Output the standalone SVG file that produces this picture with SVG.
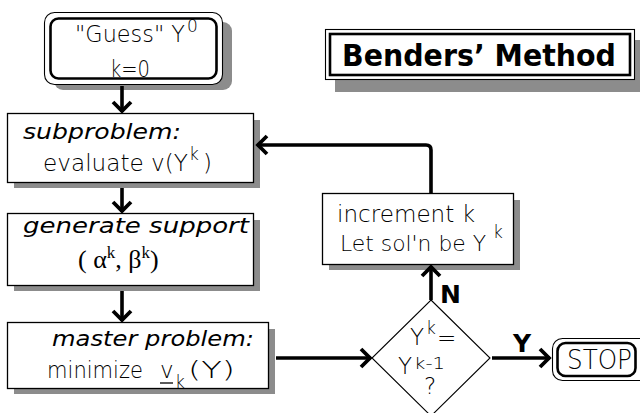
<svg xmlns="http://www.w3.org/2000/svg" width="640" height="413" viewBox="0 0 640 413">
  <defs>
    <!-- open chevron arrowhead -->
    <marker id="chev" markerUnits="userSpaceOnUse" markerWidth="28" markerHeight="28" viewBox="-14 -14 28 28" refX="0" refY="0" orient="auto" overflow="visible">
      <path d="M-10,-9 L-1,0 L-10,9" fill="none" stroke="#000" stroke-width="3.8" stroke-linecap="butt" stroke-linejoin="miter"/>
    </marker>
    <style>
      .shadow { fill: #8c8c8c; stroke: none; }
      .box { fill: #fff; stroke: #000; stroke-width: 1.3; }
      .thin { fill: #fff; stroke: #000; stroke-width: 1.1; }
      .thick { fill: none; stroke: #000; stroke-width: 2.6; }
      .t { font-family: "DejaVu Sans", "Liberation Sans", sans-serif; font-size: 23px; font-weight: 200; fill: #000; }
      .it { font-family: "DejaVu Sans", "Liberation Sans", sans-serif; font-size: 22px; font-style: italic; fill: #000; }
      .greek { font-family: "Liberation Serif", "DejaVu Serif", serif; font-size: 26px; fill: #000; }
      .sup { font-size: 17px; }
      .lbl { font-family: "DejaVu Sans", "Liberation Sans", sans-serif; font-size: 25px; font-weight: bold; fill: #000; }
      .title { font-family: "DejaVu Sans", "Liberation Sans", sans-serif; font-size: 30px; font-weight: bold; fill: #000; }
      .conn { fill: none; stroke: #000; stroke-width: 3.6; }
    </style>
  </defs>

  <rect width="640" height="413" fill="#fff"/>

  <!-- title -->
  <g id="title">
    <rect class="shadow" x="335" y="40" width="305" height="52"/>
    <rect class="thin" x="325.5" y="29.5" width="309" height="50"/>
    <rect class="thick" x="330" y="34" width="300" height="41"/>
    <text class="title" x="342" y="66" textLength="274" lengthAdjust="spacingAndGlyphs">Benders’ Method</text>
  </g>

  <!-- start terminal -->
  <g id="start">
    <rect class="shadow" x="54" y="22" width="178" height="68" rx="9"/>
    <rect class="thin" x="44.5" y="12.5" width="178" height="72" rx="10"/>
    <rect class="thick" x="50.5" y="18.5" width="166" height="60" rx="8"/>
    <text class="t" x="75" y="42" textLength="110" lengthAdjust="spacingAndGlyphs">"Guess" Y</text>
    <text class="t sup" x="187" y="32">0</text>
    <text class="t" x="110" y="77" textLength="40" lengthAdjust="spacingAndGlyphs">k=0</text>
  </g>

  <!-- subproblem -->
  <g id="subproblem">
    <rect class="shadow" x="14" y="120" width="246" height="68"/>
    <rect class="box" x="7.5" y="113.5" width="246" height="69"/>
    <text class="it" x="23" y="139" textLength="158" lengthAdjust="spacingAndGlyphs">subproblem:</text>
    <text class="t" x="43" y="171" textLength="145" lengthAdjust="spacingAndGlyphs">evaluate v(Y</text>
    <text class="t sup" x="189" y="160">k</text>
    <text class="t" x="203" y="171">)</text>
  </g>

  <!-- generate support -->
  <g id="support">
    <rect class="shadow" x="14" y="220" width="246" height="71"/>
    <rect class="box" x="7.5" y="213.5" width="246" height="72"/>
    <text class="it" x="23" y="233" textLength="226" lengthAdjust="spacingAndGlyphs">generate support</text>
    <text class="greek" x="78" y="268">( α<tspan class="sup" dy="-10">k</tspan><tspan dy="10">, β</tspan><tspan class="sup" dy="-10">k</tspan><tspan dy="10">)</tspan></text>
  </g>

  <!-- master problem -->
  <g id="master">
    <rect class="shadow" x="14" y="329" width="261" height="65"/>
    <rect class="box" x="7.5" y="322.5" width="261" height="66"/>
    <text class="it" x="52" y="346" textLength="202" lengthAdjust="spacingAndGlyphs">master problem:</text>
    <text class="t" x="47" y="378" textLength="96" lengthAdjust="spacingAndGlyphs">minimize</text>
    <text class="t" x="160" y="378">v</text>
    <line x1="160" y1="383" x2="173" y2="383" stroke="#000" stroke-width="1.3"/>
    <text class="t sup" x="175" y="388">k</text>
    <text class="t" x="188" y="378" textLength="47" lengthAdjust="spacingAndGlyphs">(Y)</text>
  </g>

  <!-- convergence test -->
  <g id="test">
    <polygon points="431,300 490,358 431,416 372,358" fill="#fff" stroke="#000" stroke-width="1.1"/>
    <text class="t" x="410" y="345">Y</text>
    <text class="t sup" x="426" y="334">k</text>
    <text class="t" x="437" y="346">=</text>
    <text class="t" x="398" y="374">Y</text>
    <text class="t sup" x="414" y="369" textLength="31" lengthAdjust="spacingAndGlyphs" style="font-size:16px">k-1</text>
    <text class="t" x="424" y="394">?</text>
  </g>

  <!-- increment -->
  <g id="increment">
    <rect class="shadow" x="329" y="200" width="191" height="70"/>
    <rect class="box" x="322.5" y="193.5" width="191" height="71"/>
    <text class="t" x="337" y="222" textLength="138" lengthAdjust="spacingAndGlyphs">increment k</text>
    <text class="t" x="340" y="251" textLength="146" lengthAdjust="spacingAndGlyphs" style="font-size:21.5px">Let sol'n be Y</text>
    <text class="t sup" x="493" y="238">k</text>
  </g>

  <!-- stop terminal -->
  <g id="stop">
    <rect class="thin" x="552.5" y="338.5" width="100" height="42" rx="10"/>
    <rect class="thick" x="557.5" y="343" width="78" height="33" rx="8"/>
    <text class="t" x="567" y="369" textLength="65" lengthAdjust="spacingAndGlyphs" style="font-size:27px">STOP</text>
  </g>

  <!-- connectors -->
  <g id="connectors">
    <line class="conn" x1="122" y1="86" x2="122" y2="112" marker-end="url(#chev)"/>
    <line class="conn" x1="122" y1="188" x2="122" y2="212" marker-end="url(#chev)"/>
    <line class="conn" x1="122" y1="291" x2="122" y2="321" marker-end="url(#chev)"/>
    <line class="conn" x1="276" y1="358" x2="371" y2="358" marker-end="url(#chev)"/>
    <line class="conn" x1="492" y1="358" x2="550" y2="358" marker-end="url(#chev)"/>
    <line class="conn" x1="431" y1="300" x2="431" y2="266" marker-end="url(#chev)"/>
    <path class="conn" d="M431,193 V150 Q431,145 426,145 H257" marker-end="url(#chev)"/>
    <text class="lbl" x="440" y="303">N</text>
    <text class="lbl" x="513" y="352">Y</text>
  </g>
</svg>
